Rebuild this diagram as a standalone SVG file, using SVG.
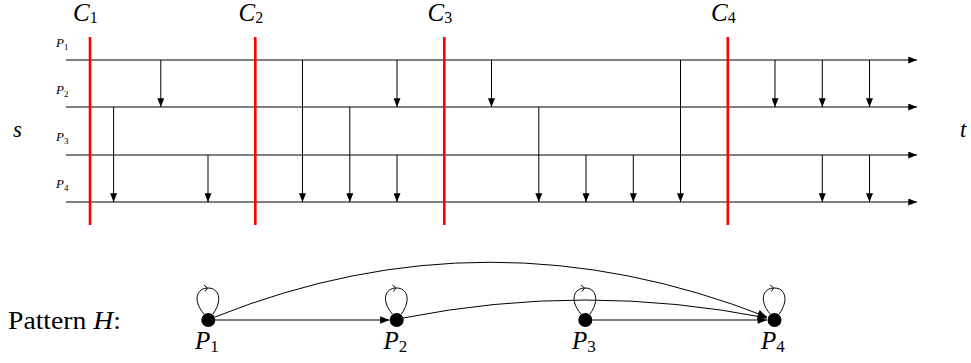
<svg xmlns="http://www.w3.org/2000/svg" width="971" height="363" viewBox="0 0 971 363">
<style>
.ln{stroke:#000;stroke-width:1;fill:none}
.msg{stroke:#000;stroke-width:1;fill:none;marker-end:url(#ah)}
.cut{stroke:#ff0000;stroke-width:2.6}
.m{font-family:"Liberation Serif",serif;font-style:italic;fill:#000}
.sub{font-style:normal}
.rm{font-family:"Liberation Serif",serif;fill:#000}
.edge{stroke:#000;stroke-width:1;fill:none;marker-end:url(#ah2)}
.loop{stroke:#000;stroke-width:1;fill:none}
</style>
<defs>
<marker id="ah" viewBox="0 0 10 8" refX="10" refY="4" markerUnits="userSpaceOnUse" markerWidth="9" markerHeight="7" orient="auto"><path d="M0,0 L10,4 L0,8 z" fill="#000"/></marker>
<marker id="ah2" viewBox="0 0 10 8" refX="10" refY="4" markerUnits="userSpaceOnUse" markerWidth="10" markerHeight="7.5" orient="auto"><path d="M0,0 L10,4 L0,8 z" fill="#000"/></marker>
</defs>

<g id="process-lines">
<line class="msg" x1="66" y1="60" x2="917" y2="60"/>
<line class="msg" x1="66" y1="107" x2="917" y2="107"/>
<line class="msg" x1="66" y1="155" x2="917" y2="155"/>
<line class="msg" x1="66" y1="202" x2="917" y2="202"/>
<text class="m" x="56" y="47" font-size="13">P<tspan class="sub" font-size="9" dy="3">1</tspan></text>
<text class="m" x="56" y="94" font-size="13">P<tspan class="sub" font-size="9" dy="3">2</tspan></text>
<text class="m" x="56" y="141" font-size="13">P<tspan class="sub" font-size="9" dy="3">3</tspan></text>
<text class="m" x="56" y="188" font-size="13">P<tspan class="sub" font-size="9" dy="3">4</tspan></text>
<text class="m" x="13" y="137" font-size="23">s</text>
<text class="m" x="960" y="137" font-size="23">t</text>
</g>

<g id="messages">
<line class="msg" x1="113.6" y1="107" x2="113.6" y2="202"/>
<line class="msg" x1="160.8" y1="60" x2="160.8" y2="107"/>
<line class="msg" x1="208" y1="155" x2="208" y2="202"/>
<line class="msg" x1="302.5" y1="60" x2="302.5" y2="202"/>
<line class="msg" x1="349.8" y1="107" x2="349.8" y2="202"/>
<line class="msg" x1="397" y1="60" x2="397" y2="107"/>
<line class="msg" x1="397" y1="155" x2="397" y2="202"/>
<line class="msg" x1="491.5" y1="60" x2="491.5" y2="107"/>
<line class="msg" x1="538.8" y1="107" x2="538.8" y2="202"/>
<line class="msg" x1="586" y1="155" x2="586" y2="202"/>
<line class="msg" x1="633.3" y1="155" x2="633.3" y2="202"/>
<line class="msg" x1="680.5" y1="60" x2="680.5" y2="202"/>
<line class="msg" x1="775" y1="60" x2="775" y2="107"/>
<line class="msg" x1="822.3" y1="60" x2="822.3" y2="107"/>
<line class="msg" x1="822.3" y1="155" x2="822.3" y2="202"/>
<line class="msg" x1="869.5" y1="60" x2="869.5" y2="107"/>
<line class="msg" x1="869.5" y1="155" x2="869.5" y2="202"/>
</g>

<g id="cuts">
<line class="cut" x1="90" y1="37" x2="90" y2="225"/>
<line class="cut" x1="255.3" y1="37" x2="255.3" y2="225"/>
<line class="cut" x1="444.3" y1="37" x2="444.3" y2="225"/>
<line class="cut" x1="727.8" y1="37" x2="727.8" y2="225"/>
<text class="m" x="73" y="21" font-size="25">C<tspan class="sub" font-size="16" dy="2">1</tspan></text>
<text class="m" x="238.5" y="21" font-size="25">C<tspan class="sub" font-size="16" dy="2">2</tspan></text>
<text class="m" x="427.5" y="21" font-size="25">C<tspan class="sub" font-size="16" dy="2">3</tspan></text>
<text class="m" x="711" y="21" font-size="25">C<tspan class="sub" font-size="16" dy="2">4</tspan></text>
</g>

<text class="rm" x="8" y="329" font-size="25" textLength="113" lengthAdjust="spacingAndGlyphs">Pattern <tspan class="m">H</tspan>:</text>

<g id="connectors">
<path class="edge" d="M215,320 L389.5,320"/>
<path class="edge" d="M592,320 L767,320"/>
<path class="edge" d="M403,318 Q585,282 767,318"/>
<path class="edge" d="M215,317 Q489,207.5 767,317"/>
</g>

<g id="node-P1">
<path class="loop" d="M204,314 C192,300 197,288 208,288 C219,288 223,300 213,314"/>
<path class="loop" d="M204,285 L207.5,288 L205,291.5"/>
<circle cx="208.3" cy="320" r="7" fill="#000"/>
<text class="m" x="195" y="349" font-size="25">P<tspan class="sub" font-size="17" dy="3">1</tspan></text>
</g>
<g id="node-P2">
<path class="loop" d="M392.4,314 C380.4,300 385.4,288 396.4,288 C407.4,288 411.4,300 401.4,314"/>
<path class="loop" d="M392.4,285 L395.9,288 L393.4,291.5"/>
<circle cx="396.7" cy="320" r="7" fill="#000"/>
<text class="m" x="383.5" y="349" font-size="25">P<tspan class="sub" font-size="17" dy="3">2</tspan></text>
</g>
<g id="node-P3">
<path class="loop" d="M581,314 C569,300 574,288 585,288 C596,288 600,300 590,314"/>
<path class="loop" d="M581,285 L584.5,288 L582,291.5"/>
<circle cx="585.3" cy="320" r="7" fill="#000"/>
<text class="m" x="572" y="349" font-size="25">P<tspan class="sub" font-size="17" dy="3">3</tspan></text>
</g>
<g id="node-P4">
<path class="loop" d="M770.2,314 C758.2,300 763.2,288 774.2,288 C785.2,288 789.2,300 779.2,314"/>
<path class="loop" d="M770.2,285 L773.7,288 L771.2,291.5"/>
<circle cx="774.5" cy="320" r="7" fill="#000"/>
<text class="m" x="761" y="349" font-size="25">P<tspan class="sub" font-size="17" dy="3">4</tspan></text>
</g>
</svg>
